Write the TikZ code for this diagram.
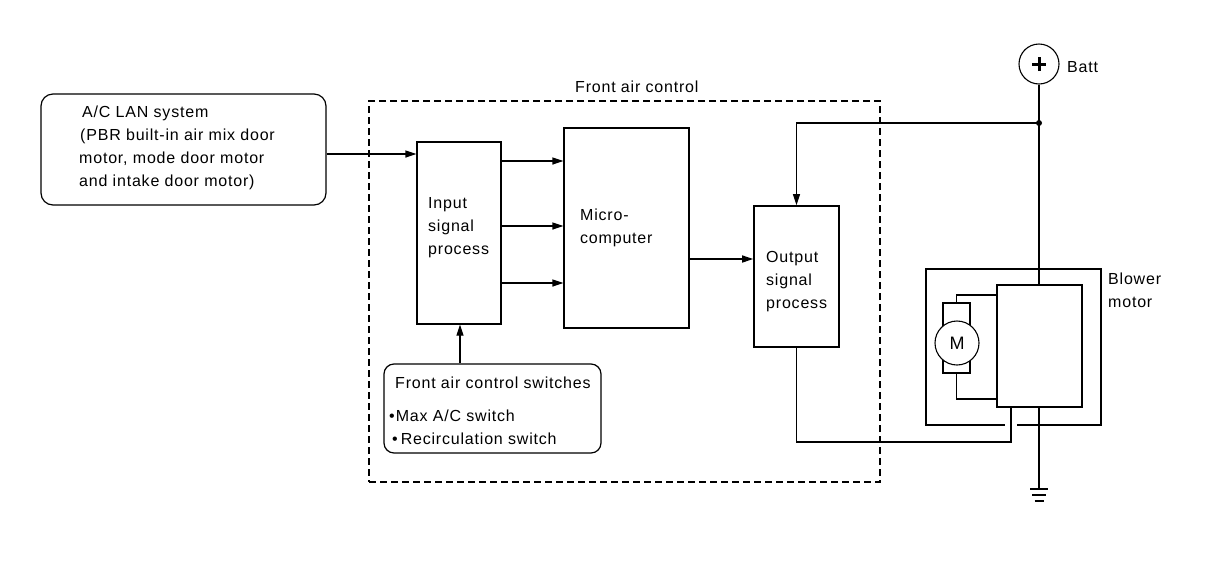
\documentclass[tikz,border=0pt]{standalone}
\usepackage{fontspec}
\setmainfont{Liberation Sans}[LetterSpace=5]
\usetikzlibrary{arrows.meta}
\begin{document}
\begin{tikzpicture}[x=1pt,y=-1pt,
  box/.style={draw, line width=1.2pt, inner sep=0pt, fill=white},
  txt/.style={anchor=base west, inner sep=0pt, font=\fontsize{16}{19}\selectfont},
  arr/.style={-{Triangle[length=11pt,width=7pt]}, line width=1.4pt},
  wire/.style={line width=1.1pt}]
\useasboundingbox (0,0) rectangle (1216,582);
% frame
\node[draw, line width=1.3pt, dash pattern=on 7pt off 4pt, minimum width=511pt, minimum height=381pt, inner sep=0pt] (fac) at (624.5,291.5) {};
\node[txt] (factxt) at (575,92) {Front air control};
% boxes
\node[box, rounded corners=12pt, minimum width=285pt, minimum height=111pt] (lan) at (183.5,149.5) {};
\node[box, minimum width=84pt, minimum height=182pt] (inp) at (459,233) {};
\node[box, minimum width=125pt, minimum height=200pt] (mic) at (626.5,228) {};
\node[box, line width=1.6pt, minimum width=85pt, minimum height=141pt] (out) at (796.5,276.5) {};
\node[box, rounded corners=10pt, minimum width=217pt, minimum height=89pt] (sw) at (492.5,408.5) {};
% texts
\node[txt] (lan1) at (82,117) {A/C LAN system};
\node[txt] (lan2) at (80,140) {(PBR built-in air mix door};
\node[txt] (lan3) at (79,163) {motor, mode door motor};
\node[txt] (lan4) at (79,186) {and intake door motor)};
\node[txt] (inp1) at (428,208) {Input};
\node[txt] (inp2) at (428,231) {signal};
\node[txt] (inp3) at (428,254) {process};
\node[txt] (mic1) at (580,220) {Micro-};
\node[txt] (mic2) at (580,243) {computer};
\node[txt] (out1) at (766,262) {Output};
\node[txt] (out2) at (766,285) {signal};
\node[txt] (out3) at (766,308) {process};
\node[txt] (sw1) at (395,388) {Front air control switches};
\node[txt] (sw2) at (389,421) {\textbullet\hspace{1pt}Max A/C switch};
\node[txt] (sw3) at (392,444) {\textbullet\hspace{3pt}Recirculation switch};
% arrows
\draw[arr] (lan.east |- 0,154) -- (inp.west |- 0,154);
\draw[arr] (inp.east |- 0,161) -- (mic.west |- 0,161);
\draw[arr] (inp.east |- 0,226) -- (mic.west |- 0,226);
\draw[arr] (inp.east |- 0,283) -- (mic.west |- 0,283);
\draw[arr] (mic.east |- 0,259) -- (out.west |- 0,259);
\draw[arr, line width=1.2pt] (sw.north -| 460,0) -- (inp.south -| 460,0);
% blower motor
\node[draw, line width=1.8pt, fill=white, inner sep=0pt, minimum width=175pt, minimum height=156pt] (bout) at (1013.5,347) {};
\node[draw, line width=1.8pt, fill=white, inner sep=0pt, minimum width=85pt, minimum height=122pt] (binn) at (1039.5,346) {};
\node[txt] (bl1) at (1108,284) {Blower};
\node[txt] (bl2) at (1108,307) {motor};
\node[draw, line width=1.3pt, inner sep=0pt, minimum width=27pt, minimum height=70pt] (mrect) at (956.5,338) {};
\node[draw, line width=1.1pt, fill=white, circle, inner sep=0pt, minimum size=44pt, font=\fontsize{18}{20}\selectfont] (mot) at (957,343) {M};
\draw[wire] (mrect.north) |- (binn.west |- 0,295);
\draw[line width=1.5pt] (mrect.south) |- (binn.west |- 0,399);
% battery
\node[draw, circle, line width=1.1pt, inner sep=0pt, minimum size=40pt] (batt) at (1039,64) {};
\draw[line width=3pt] ([xshift=-7pt]batt.center) -- ([xshift=7pt]batt.center);
\draw[line width=3pt] ([yshift=-7pt]batt.center) -- ([yshift=7pt]batt.center);
\node[txt] (batttxt) at (1067,72) {Batt};
\coordinate (j) at (1039,123);
\coordinate (gnd) at (1039,489);
\draw[line width=2pt] (batt.south) -- (binn.north -| batt.south);
\draw[line width=2pt] (binn.south -| batt.south) -- (gnd);
\draw[line width=1.3pt] ([xshift=-9pt]gnd) -- ([xshift=9pt]gnd);
\draw[line width=1.3pt] ([xshift=-7pt,yshift=-6pt]gnd) -- ([xshift=7pt,yshift=-6pt]gnd);
\draw[line width=1.3pt] ([xshift=-4.5pt,yshift=-12pt]gnd) -- ([xshift=4.5pt,yshift=-12pt]gnd);
\fill (j) circle (3pt);
\draw[arr, line width=1.1pt] (j) -| (out.north);
% output line with crossing gap
\draw[white, line width=3pt] (1005,425) -- (1017,425);
\coordinate (c1) at (1011,442);
\draw[wire] (out.south) |- (c1) -- (binn.south -| c1);
\end{tikzpicture}
\end{document}
